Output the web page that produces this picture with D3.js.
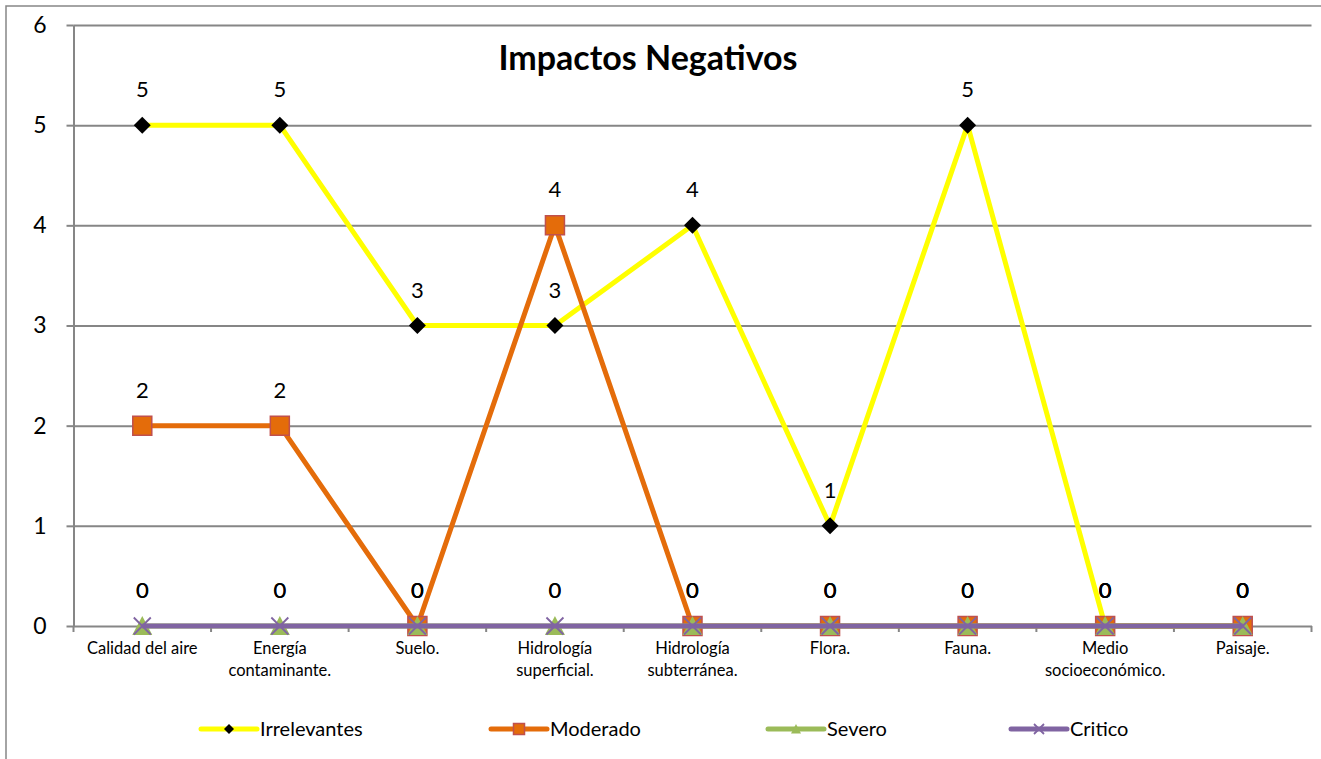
<!DOCTYPE html>
<html>
<head>
<meta charset="utf-8">
<script src="https://cdn.jsdelivr.net/npm/d3@7"></script>
<style>
  html, body { margin: 0; padding: 0; background: #fff; }
  svg { display: block; }
  text { font-family: Lato, "Open Sans", sans-serif; fill: #000; }
</style>
</head>
<body>
<svg id="chart" width="1321" height="759"></svg>
<script>
const categories = ["Calidad del aire", "Energía contaminante.", "Suelo.", "Hidrología superficial.", "Hidrología subterránea.", "Flora.", "Fauna.", "Medio socioeconómico.", "Paisaje."];
const irrelevantes = [5, 5, 3, 3, 4, 1, 5, 0, 0];
const moderado = [2, 2, 0, 4, 0, 0, 0, 0, 0];
const severo = [0, 0, 0, 0, 0, 0, 0, 0, 0];
const critico = [0, 0, 0, 0, 0, 0, 0, 0, 0];
const seriesNames = ["Irrelevantes", "Moderado", "Severo", "Critico"];
const yTicks = [0, 1, 2, 3, 4, 5, 6];
const title = "Impactos Negativos";

const series = [
  { name: seriesNames[0], values: irrelevantes, color: "#FFFF00", marker: "diamond" },
  { name: seriesNames[1], values: moderado, color: "#E46C0A", marker: "square" },
  { name: seriesNames[2], values: severo, color: "#9BBB59", marker: "triangle" },
  { name: seriesNames[3], values: critico, color: "#8064A2", marker: "x" }
];

const svg = d3.select("#chart");
const plot = { left: 73.5, right: 1311.5, top: 25, bottom: 626 };
const axisColor = "#868686";

const x = d3.scaleBand().domain(categories).range([plot.left, plot.right]);
const y = d3.scaleLinear().domain([0, 6]).range([plot.bottom, plot.top]);
const cx = c => x(c) + x.bandwidth() / 2;

// outer chart border
svg.append("rect").attr("x", 6).attr("y", 6).attr("width", 1400).attr("height", 800)
  .attr("fill", "none").attr("stroke", axisColor).attr("stroke-width", 1.5);

// gridlines
svg.append("g").attr("transform", `translate(${plot.left},0)`)
  .call(d3.axisLeft(y).tickValues(yTicks.filter(t => t > 0)).tickSize(-(plot.right - plot.left)).tickFormat(""))
  .call(g => g.select(".domain").remove())
  .call(g => g.selectAll("line").attr("stroke", axisColor).attr("stroke-width", 2));

// y axis
svg.append("g").attr("transform", `translate(${plot.left},0)`)
  .call(d3.axisLeft(y).tickValues(yTicks).tickFormat(d3.format("d")).tickSize(7).tickPadding(20).tickSizeOuter(0))
  .call(g => g.select(".domain").attr("stroke", axisColor).attr("stroke-width", 2))
  .call(g => g.selectAll("line").attr("stroke", axisColor).attr("stroke-width", 2))
  .call(g => g.selectAll("text").attr("font-size", 23).attr("font-family", "Lato, sans-serif").attr("fill", "#000"));

// x axis
const xg = svg.append("g").attr("transform", `translate(0,${plot.bottom})`)
  .call(d3.axisBottom(x).tickSize(0).tickPadding(16).tickSizeOuter(0));
xg.select(".domain").attr("stroke", axisColor).attr("stroke-width", 2);
// boundary ticks
const bounds = categories.map(c => x(c)).concat([x.range()[1]]);
xg.selectAll(".btick").data(bounds).join("line").attr("class", "btick")
  .attr("x1", d => d).attr("x2", d => d).attr("y1", 0).attr("y2", 6)
  .attr("stroke", axisColor).attr("stroke-width", 2);
// wrap labels
xg.selectAll(".tick text").each(function(d) {
  const t = d3.select(this);
  t.attr("font-size", 16.5).attr("font-family", "Lato, sans-serif").attr("fill", "#000");
  const words = d.split(" ");
  t.text(null);
  let lines = [];
  let line = [];
  const maxW = 128;
  const tmp = t.append("tspan");
  words.forEach(w => {
    line.push(w);
    tmp.text(line.join(" "));
    if (tmp.node().getComputedTextLength() > maxW && line.length > 1) {
      line.pop();
      lines.push(line.join(" "));
      line = [w];
    }
  });
  lines.push(line.join(" "));
  tmp.remove();
  const dy0 = t.attr("dy");
  lines.forEach((l, i) => {
    t.append("tspan").attr("x", 0).attr("dy", i === 0 ? dy0 : "1.35em").text(l);
  });
});

// title
svg.append("text").attr("x", 648).attr("y", 70).attr("text-anchor", "middle")
  .attr("font-size", 34).attr("font-weight", "bold").text(title);

// markers
function markerPath(type, s) {
  if (type === "diamond") return `M0,${-s}L${s},0L0,${s}L${-s},0Z`;
  if (type === "square") return `M${-s},${-s}H${s}V${s}H${-s}Z`;
  if (type === "triangle") return `M0,${-s}L${s},${s * 0.9}L${-s},${s * 0.9}Z`;
  return `M${-s},${-s}L${s},${s}M${s},${-s}L${-s},${s}`;
}
function styleMarker(sel, s) {
  if (s.marker === "diamond") sel.attr("fill", "#000").attr("stroke", "none");
  else if (s.marker === "square") sel.attr("fill", s.color).attr("stroke", "#C0504D").attr("stroke-width", 1.5);
  else if (s.marker === "triangle") sel.attr("fill", s.color).attr("stroke", "none");
  else sel.attr("fill", "none").attr("stroke", s.color).attr("stroke-width", 1.8);
}
const markerSize = { diamond: 8.5, square: 9.5, triangle: 10, x: 8.5 };

const line = d3.line().x((d, i) => cx(categories[i])).y(d => y(d));
series.forEach(s => {
  const g = svg.append("g");
  g.append("path").datum(s.values).attr("d", line).attr("fill", "none")
    .attr("stroke", s.color).attr("stroke-width", 5).attr("stroke-linejoin", "round");
  g.selectAll(".m").data(s.values).join("path").attr("class", "m")
    .attr("transform", (d, i) => `translate(${cx(categories[i])},${y(d)})`)
    .attr("d", markerPath(s.marker, markerSize[s.marker]))
    .call(sel => styleMarker(sel, s));
});
// data labels
series.forEach(s => {
  svg.append("g").selectAll("text").data(s.values).join("text")
    .attr("x", (d, i) => cx(categories[i])).attr("y", d => y(d) - 28)
    .attr("text-anchor", "middle").attr("font-size", 22).text(d => d);
});

// legend
const legendX = [201, 491, 768, 1011];
const legendY = 729;
series.forEach((s, i) => {
  const g = svg.append("g").attr("transform", `translate(${legendX[i]},${legendY})`);
  g.append("line").attr("x1", 0).attr("x2", 56).attr("y1", 0).attr("y2", 0)
    .attr("stroke", s.color).attr("stroke-width", 5).attr("stroke-linecap", "round");
  g.append("path").attr("transform", "translate(28,0)")
    .attr("d", markerPath(s.marker, s.marker === "square" ? 5.5 : 5))
    .call(sel => styleMarker(sel, s));
  g.append("text").attr("x", 59).attr("y", 0).attr("dy", "0.35em")
    .attr("font-size", 20).text(s.name);
});
</script>
</body>
</html>
